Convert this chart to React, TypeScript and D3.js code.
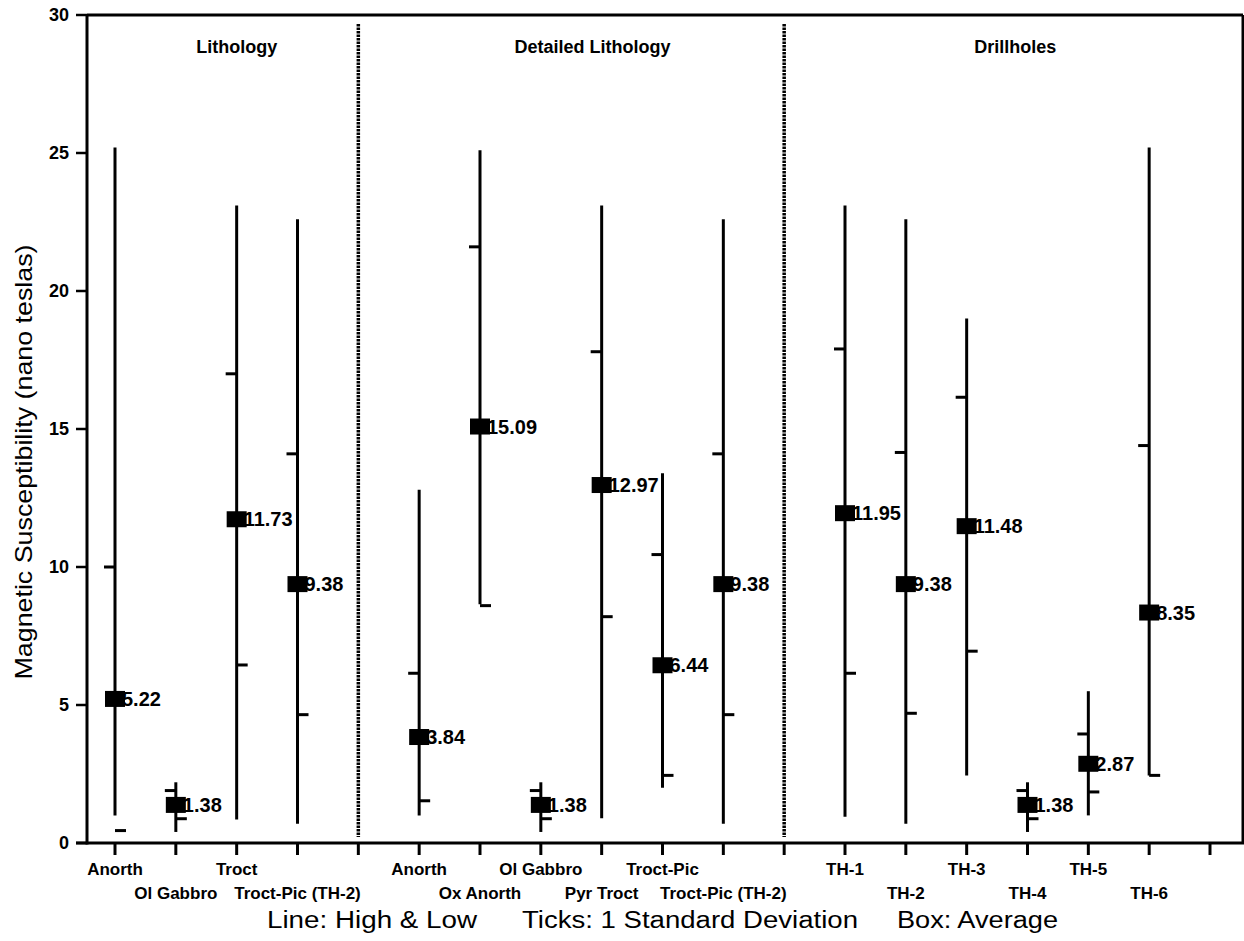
import React from "react";
import * as d3 from "d3";

// ---- data ----
const groups = ["Lithology", "Detailed Lithology", "Drillholes"];
const categories = [
  "Anorth", "Ol Gabbro", "Troct", "Troct-Pic (TH-2)",
  "Anorth", "Ox Anorth", "Ol Gabbro", "Pyr Troct", "Troct-Pic", "Troct-Pic (TH-2)",
  "TH-1", "TH-2", "TH-3", "TH-4", "TH-5", "TH-6",
];
const groupOf = [0, 0, 0, 0, 1, 1, 1, 1, 1, 1, 2, 2, 2, 2, 2, 2];
const means = [5.22, 1.38, 11.73, 9.38, 3.84, 15.09, 1.38, 12.97, 6.44, 9.38, 11.95, 9.38, 11.48, 1.38, 2.87, 8.35];
const highs = [25.2, 2.2, 23.1, 22.6, 12.8, 25.1, 2.2, 23.1, 13.4, 22.6, 23.1, 22.6, 19.0, 2.2, 5.5, 25.2];
const lows = [1.0, 0.4, 0.85, 0.7, 1.0, 8.65, 0.4, 0.9, 2.0, 0.7, 0.95, 0.7, 2.45, 0.4, 1.0, 2.45];
const sdUpper = [10.0, 1.9, 17.0, 14.1, 6.15, 21.6, 1.9, 17.8, 10.45, 14.1, 17.9, 14.15, 16.15, 1.9, 3.95, 14.4];
const sdLower = [0.45, 0.88, 6.45, 4.65, 1.53, 8.6, 0.88, 8.2, 2.45, 4.65, 6.15, 4.7, 6.95, 0.88, 1.85, 2.45];
const yTicks = [0, 5, 10, 15, 20, 25, 30];
const footer = ["Line: High & Low", "Ticks: 1 Standard Deviation", "Box: Average"];

// ---- layout ----
const W = 1244, H = 941;
const left = 87, right = 1243, top = 15, bottom = 843;
const nSlots = categories.length + groups.length; // one empty slot after each group
const x = d3.scaleLinear().domain([0, nSlots - 1]).range([115, 1210]);
const y = d3.scaleLinear().domain([0, 30]).range([bottom, top]);

const slotOf = categories.map((_, i) => i + groupOf[i]);
const rowOf = categories.map((_, i) => (i - groupOf.indexOf(groupOf[i])) % 2);
const dividerSlots = groups.slice(0, -1).map((_, g) => groupOf.lastIndexOf(g) + g + 1);
const titleSlots = [2, 7.85, 14.8];

const boldFont = "'Liberation Sans', Arial, sans-serif";

export default function App() {
  const tickW = 11;
  return (
    <svg width={W} height={H} style={{ position: "absolute", left: 0, top: 0, background: "#fff" }}>
      <rect x={0} y={0} width={W} height={H} fill="#fff" />
      {/* frame */}
      <line x1={left} x2={right} y1={top} y2={top} stroke="#000" strokeWidth={3} />
      <line x1={right} x2={right} y1={top} y2={bottom} stroke="#000" strokeWidth={3} />
      <line x1={left} x2={left} y1={top} y2={bottom + 1.5} stroke="#000" strokeWidth={3} />
      <line x1={left - 11} x2={right + 1.5} y1={bottom} y2={bottom} stroke="#000" strokeWidth={3} />

      {/* y ticks */}
      {yTicks.map((t) => (
        <g key={t}>
          <line x1={left - 11} x2={left} y1={y(t)} y2={y(t)} stroke="#000" strokeWidth={2.5} />
          <text x={69} y={y(t)} dy="0.36em" textAnchor="end" fontFamily={boldFont} fontWeight="bold" fontSize={18}>
            {t}
          </text>
        </g>
      ))}

      {/* x ticks */}
      {d3.range(nSlots).map((s) => (
        <line key={s} x1={x(s)} x2={x(s)} y1={bottom} y2={bottom + 12} stroke="#000" strokeWidth={3} />
      ))}

      {/* dividers */}
      {dividerSlots.map((s) => (
        <line key={s} x1={x(s)} x2={x(s)} y1={24} y2={bottom - 6} stroke="#000" strokeWidth={3.5} strokeDasharray="2.5,1" />
      ))}

      {/* group titles */}
      {groups.map((g, i) => (
        <text key={g} x={x(titleSlots[i])} y={53} textAnchor="middle" fontFamily={boldFont} fontWeight="bold" fontSize={18}>
          {g}
        </text>
      ))}

      {/* category labels */}
      {categories.map((c, i) => (
        <text key={i} x={x(slotOf[i])} y={rowOf[i] === 0 ? 875 : 899} textAnchor="middle" fontFamily={boldFont} fontWeight="bold" fontSize={17}>
          {c}
        </text>
      ))}

      {/* high-low lines, SD ticks, mean boxes */}
      {categories.map((c, i) => {
        const cx = x(slotOf[i]);
        return (
          <g key={"m" + i}>
            <line x1={cx} x2={cx} y1={y(lows[i])} y2={y(highs[i])} stroke="#000" strokeWidth={3} />
            <line x1={cx - tickW} x2={cx} y1={y(sdUpper[i])} y2={y(sdUpper[i])} stroke="#000" strokeWidth={3} />
            <line x1={cx} x2={cx + tickW} y1={y(sdLower[i])} y2={y(sdLower[i])} stroke="#000" strokeWidth={3} />
            <text x={cx + 7} y={y(means[i])} dy="0.36em" fontFamily={boldFont} fontWeight="bold" fontSize={20}>
              {means[i].toFixed(2)}
            </text>
            <rect x={cx - 10} y={y(means[i]) - 8} width={20} height={16} fill="#000" />
          </g>
        );
      })}

      {/* y axis title */}
      <text
        transform={`translate(32, 462) rotate(-90)`}
        textAnchor="middle"
        fontFamily="'Liberation Sans', Arial, sans-serif"
        fontSize={24}
        textLength={435}
        lengthAdjust="spacingAndGlyphs"
      >
        Magnetic Susceptibility (nano teslas)
      </text>

      {/* footer */}
      {footer.map((f, i) => {
        const starts = [267, 522, 897];
        const lens = [210, 336, 161];
        return (
          <text key={f} x={starts[i]} y={928} fontFamily="'Liberation Sans', Arial, sans-serif" fontSize={23} textLength={lens[i]} lengthAdjust="spacingAndGlyphs">
            {f}
          </text>
        );
      })}
    </svg>
  );
}
